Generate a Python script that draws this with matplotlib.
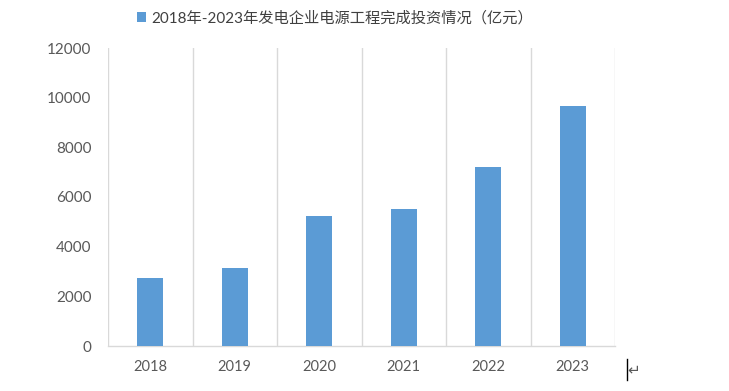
import matplotlib.pyplot as plt

plt.rcParams['font.family'] = ['Lato', 'Noto Sans CJK SC', 'DejaVu Sans']

years = ['2018', '2019', '2020', '2021', '2022', '2023']
investment = [2721, 3139, 5244, 5530, 7208, 9675]
series_name = '2018年-2023年发电企业电源工程完成投资情况（亿元）'

bar_color = '#5B9BD5'
grid_color = '#D9D9D9'
text_color = '#595959'

fig = plt.figure(figsize=(7.29, 3.91), dpi=100)
ax = fig.add_axes([108 / 729, 45 / 391, 507 / 729, 298 / 391])

x = range(len(years))
bars = ax.bar(x, investment, width=0.31, color=bar_color, label=series_name, zorder=3)

ax.set_xlim(-0.5, len(years) - 0.5)
ax.set_ylim(0, 12000)
ax.set_yticks(range(0, 12001, 2000))
ax.set_xticks(list(x))
ax.set_xticklabels(years)

# vertical gridlines at category boundaries
for b in [i - 0.5 for i in range(len(years) + 1)]:
    ax.axvline(b, color=grid_color, lw=1, zorder=1)

for s in ['top', 'left', 'right']:
    ax.spines[s].set_visible(False)
ax.spines['bottom'].set_color(grid_color)
ax.spines['bottom'].set_linewidth(1)

ax.tick_params(axis='both', length=0, colors=text_color)
ax.tick_params(axis='x', pad=10, labelsize=10.5)
ax.tick_params(axis='y', pad=12, labelsize=11)

leg = fig.legend(handles=[bars], labels=[series_name], loc='center',
                 bbox_to_anchor=(335 / 729, 1 - 18 / 391), frameon=False,
                 fontsize=11, handlelength=0.6, handleheight=0.6, handletextpad=0.3)
for t in leg.get_texts():
    t.set_color('#404040')

# Word paragraph mark next to the chart
fig.text(627 / 729, 1 - 370 / 391, '↵', family='DejaVu Sans', fontsize=11,
         color='#595959', va='center', ha='left')
fig.add_artist(plt.Line2D([627 / 729, 627 / 729], [1 - 359 / 391, 1 - 380 / 391],
                          color='black', lw=1))

fig.savefig('out.png', dpi=100)
